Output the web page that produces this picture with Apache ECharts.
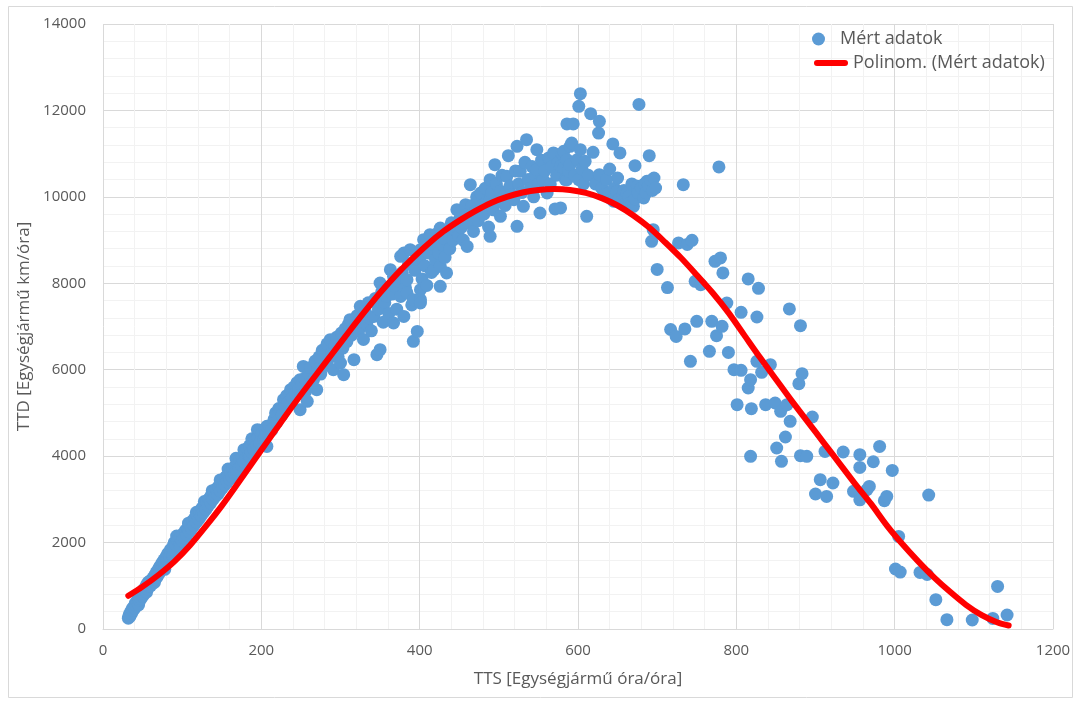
<!DOCTYPE html>
<html>
<head>
<meta charset="utf-8">
<script src="https://cdn.jsdelivr.net/npm/echarts@6/dist/echarts.min.js"></script>
<style>
html,body{margin:0;padding:0;background:#fff;}
#chart{width:1079px;height:704px;}
</style>
</head>
<body>
<div id="chart"></div>
<script>
// Measured data: [TTS, TTD]
const measuredPoints = [
[32,250],[33,330],[34,290],[35,400],[36,360],[37,470],[38,430],[39,520],[40,480],[41,600],[42,540],[43,650],[44,590],[45,720],[45,560],[46,660],[47,780],[48,700],[49,850],[50,760],[51,900],[52,820],[53,950],[54,880],[55,1020],[55,850],[56,930],[57,1080],[58,990],
[59,1100],[60,1000],[61,1130],[62,1050],[63,1180],[64,1100],[65,1230],[65,1080],[66,1150],[67,1300],[68,1200],[69,1360],[70,1260],[71,1420],[72,1320],[73,1480],[74,1380],[75,1540],[76,1440],[77,1600],[78,1500],[78,1380],[80,1680],[81,1580],[82,1750],[84,1680],[85,1830],[86,1740],[88,1900],[88,1720],[89,1820],[90,2000],
[92,1950],[93,2150],[94,2050],
[96,2080],[97,1960],[98,2130],[98,1900],[100,2040],[101,2200],[103,2110],[104,2280],[106,2180],[107,2340],[108,2450],[109,2250],[110,2420],[112,2320],[113,2500],[115,2400],[116,2570],[118,2470],[118,2700],[119,2640],[121,2540],[122,2720],[124,2620],[125,2800],[127,2700],[128,2870],[128,2950],[130,2770],[131,2950],[133,2850],[134,3020],[136,2920],[137,3100],[138,3200],[139,3000],[140,3170],[142,3070],[143,3240],[145,3120],[146,3300],[148,3200],[148,3450],[149,3370],[151,3270],[152,3440],[154,3340],[155,3520],[157,3400],[158,3570],[158,3700],[160,3470],[161,3640],[163,3520],[164,3720],[166,3600],[167,3770],[168,3950],[169,3610],[169,3680],[170,3840],[172,3720],[173,3920],[175,3800],[176,3970],[178,3870],[178,4150],[179,4070],[181,3940],[182,4170],[184,4020],[185,4240],[186,3995],[187,4100],[188,4300],[188,4400],[190,4170],[192,4370],[194,4240],[195,4612],[196,4420],[198,4300],[198,4600],[200,4500],[203,4400],[205,4620],[205,4450],[207,4226],[207,4689],[210,4700],[213,4600],
[216,4844],[218,5000],[220,4800],[222,5100],[224,5075],[226,4950],[228,5307],[230,5150],[232,5400],[234,5250],[237,5538],[239,5350],[241,5600],[243,5450],[245,5700],[247,5550],[249,5770],[249,5075],[251,5650],[253,6077],[255,5800],[256,5500],[258,5268],[260,5900],[262,6050],[264,5700],[266,5770],[268,6200],[270,5538],[271,6000],[273,6300],[275,5900],[277,6450],[279,6424],[281,6100],[283,6600],[285,6250],[287,6695],[289,6400],[291,6000],[293,6550],[295,6750],[297,6300],[300,6156],[301,6850],[303,6500],[304,5885],[306,6950],[308,6650],[310,7050],[312,7158],[314,6800],[317,6232],[319,7000],[321,7250],[323,6900],[325,7466],[327,7100],[329,6700],[331,7350],[333,7050],[335,7550],[337,7200],[339,6900],[342,7234],[344,7650],[346,6348],[348,7400],[350,6464],[350,8007],[352,7800],[354,7100],[356,7550],[358,7697],[360,7900],[361,7300],[363,8315],[365,7750],[367,8160],[367,7081],[369,7929],[371,7400],[373,8050],[376,8623],[376,7697],[378,8250],[380,8701],[380,7234],[382,7900],[384,8083],[384,7776],[386,8450],[388,8778],[390,7500],[392,7621],[392,6656],[394,8300],[397,6887],[398,8550],
[401,8778],[401,8623],[401,7852],[401,7621],[401,7544],[403,8100],[405,9009],[407,8400],[409,7950],[411,8700],[413,9125],[415,8250],[417,8900],[418,8315],[420,8550],[422,9150],[424,8700],[426,9279],[426,8392],[426,7929],[428,8900],[430,9050],[432,8600],[434,8239],[436,9200],[438,8800],[440,9400],[442,9000],[444,9250],[447,9704],[449,9100],[451,9500],[453,9300],[455,9000],[458,9820],[460,8854],[460,9600],[462,9400],[464,10282],[466,9800],[468,9200],[470,9650],[472,10000],[474,9450],[477,10089],[479,9800],[481,9600],[483,10200],[485,9900],[487,9300],[489,10398],[489,9935],[489,9086],[491,10100],[493,9700],[495,10745],[497,10300],[499,9900],
[502,10128],[502,9549],[504,10500],[506,10000],[508,9800],[510,10475],[512,10954],[514,10243],[516,10050],[519,9935],[521,10600],[523,11169],[523,9317],[525,10300],[527,10591],[529,10100],[531,9780],[533,10800],[535,11324],[537,10400],[540,10200],[542,10700],[544,10000],[546,10500],[548,11092],[548,10629],[550,10300],[552,9627],[554,10850],[556,10400],[558,10600],[561,10089],[563,10900],[565,10300],[567,10700],[569,11016],[571,9720],[573,10500],[575,10800],[578,10706],[578,9743],[580,11000],[582,11053],[582,10668],[584,10400],[586,11687],[586,10860],[586,10398],[588,10600],[590,11169],[590,10745],[592,11246],[594,11687],[596,10500],[599,10860],
[601,12095],[601,10398],[603,12388],[603,11092],[605,10650],[607,10300],[609,10822],[611,9549],[613,10500],[616,11925],[619,11030],[622,10300],[626,11477],[627,11747],[627,10514],[630,10200],[633,10050],[636,10400],[639,10089],[640,10645],[642,9950],[644,11224],[645,9900],[646,10200],[649,10128],[650,10437],[652,9950],[653,11016],[655,9900],[657,10050],[658,10150],[660,9850],[662,10089],[664,10000],[665,9850],[667,9800],[668,10300],[670,9780],[672,10722],[672,9950],[675,10243],[676,10100],[677,12140],[680,10200],[683,9974],[684,10300],[686,10100],[687,10359],[689,10250],[690,10954],[692,10380],[693,8970],[694,10150],[695,9241],[696,10437],[698,10205],
[700,8320],[713,7900],[717,6930],[724,6770],[727,8933],[733,10282],[735,6943],[738,8900],[742,6193],[744,8993],[748,8045],[750,7119],[755,7968],[766,6425],[769,7119],[773,8508],[775,6788],[778,10692],[780,8586],[782,7003],[783,8239],[788,7544],[790,6401],[797,6001],[801,5191],[806,7327],[806,5985],[815,8100],[815,5577],[818,5770],[818,3995],[819,5098],[826,7220],[826,6193],[828,7883],[832,5939],[837,5191],[843,6117],[849,5230],[851,4188],[856,5036],[857,3879],[862,4443],[864,5191],[867,7406],[868,4805],[879,5677],[881,7019],[881,4010],[883,5908],[889,3995],[896,4906],
[900,3124],[906,3455],[912,4110],[914,3069],[922,3379],[935,4096],[948,3185],[956,4034],[956,3740],[956,2990],[965,3224],[968,3300],[973,3870],[981,4226],[987,2969],[990,3069],[997,3670],[1005,2143],[1001,1388],[1007,1318],[1032,1310],[1041,1264],[1043,3100],[1052,678],[1066,215],[1098,208],[1124,245],[1130,986],[1142,324]
];

// Polynomial trendline: [TTS, TTD]
const trendPoints = [
[32,770],[50,980],[70,1250],[90,1560],[110,1940],[130,2380],[150,2850],[170,3360],[190,3880],[210,4400],[230,4920],[250,5420],[270,5900],[290,6380],[310,6860],[330,7330],[350,7780],[370,8190],[390,8560],[410,8900],[430,9200],[450,9450],[470,9670],[490,9860],[510,10000],[530,10100],[550,10160],[570,10180],[590,10160],[610,10090],[630,9970],[650,9800],[670,9570],[690,9290],[710,8950],[730,8590],[750,8190],[770,7780],[790,7320],[810,6800],[830,6280],[850,5780],[870,5280],[890,4800],[910,4320],[930,3840],[950,3360],[970,2900],[990,2400],[1010,1960],[1030,1560],[1050,1190],[1070,860],[1090,560],[1110,320],[1130,150],[1144,80]
];

const seriesNames = ['Mért adatok', 'Polinom. (Mért adatok)'];
const axisTitles = { x: 'TTS [Egységjármű óra/óra]', y: 'TTD [Egységjármű km/óra]' };

const FONT = '"Open Sans", "Noto Sans", sans-serif';
const TXT = '#595959';
const plainNumber = v => String(v);

const chart = echarts.init(document.getElementById('chart'), null, { renderer: 'canvas' });
chart.setOption({
  animation: false,
  backgroundColor: '#ffffff',
  textStyle: { fontFamily: FONT },
  graphic: [{
    type: 'rect', silent: true, z: -10,
    shape: { x: 8.5, y: 6.5, width: 1064, height: 691 },
    style: { fill: 'none', stroke: '#D9D9D9', lineWidth: 1 }
  }],
  grid: { left: 103, right: 26, top: 24, bottom: 75 },
  legend: [{
    data: [seriesNames[0]],
    left: 812, top: 30, padding: 0,
    itemWidth: 33, itemHeight: 13, icon: 'circle',
    textStyle: { fontSize: 18, color: TXT, fontFamily: FONT }
  }, {
    data: [seriesNames[1]],
    left: 814, top: 54, padding: 0,
    itemWidth: 34, itemHeight: 6,
    icon: 'path://M3,0 L31,0 A3,3 0 0 1 31,6 L3,6 A3,3 0 0 1 3,0 Z',
    textStyle: { fontSize: 18, color: TXT, fontFamily: FONT }
  }],
  xAxis: {
    type: 'value', min: 0, max: 1200, interval: 200,
    name: axisTitles.x, nameLocation: 'middle', nameGap: 42,
    nameTextStyle: { color: TXT, fontSize: 17, fontFamily: FONT },
    axisLine: { show: true, lineStyle: { color: '#D9D9D9', width: 1 } },
    axisTick: { show: false },
    axisLabel: { color: TXT, fontSize: 15, margin: 14, fontFamily: FONT, formatter: plainNumber },
    splitLine: { show: true, lineStyle: { color: '#D9D9D9', width: 1 } },
    minorTick: { show: false, splitNumber: 5 },
    minorSplitLine: { show: true, lineStyle: { color: '#F2F2F2', width: 1 } }
  },
  yAxis: {
    type: 'value', min: 0, max: 14000, interval: 2000,
    name: axisTitles.y, nameLocation: 'middle', nameGap: 66, nameRotate: 90,
    nameTextStyle: { color: TXT, fontSize: 17, fontFamily: FONT },
    axisLine: { show: false },
    axisTick: { show: false },
    axisLabel: { color: TXT, fontSize: 15, margin: 17, fontFamily: FONT, formatter: plainNumber },
    splitLine: { show: true, lineStyle: { color: '#D9D9D9', width: 1 } },
    minorTick: { show: false, splitNumber: 5 },
    minorSplitLine: { show: true, lineStyle: { color: '#F2F2F2', width: 1 } }
  },
  series: [{
    name: seriesNames[0], type: 'scatter',
    data: measuredPoints,
    symbol: 'circle', symbolSize: 13,
    itemStyle: { color: '#5B9BD5', opacity: 1 },
    z: 2
  }, {
    name: seriesNames[1], type: 'line',
    data: trendPoints,
    smooth: 0.3, showSymbol: false, symbol: 'none',
    lineStyle: { color: '#FF0000', width: 6, cap: 'round', join: 'round' },
    itemStyle: { color: '#FF0000' },
    z: 3
  }]
});
</script>
</body>
</html>
